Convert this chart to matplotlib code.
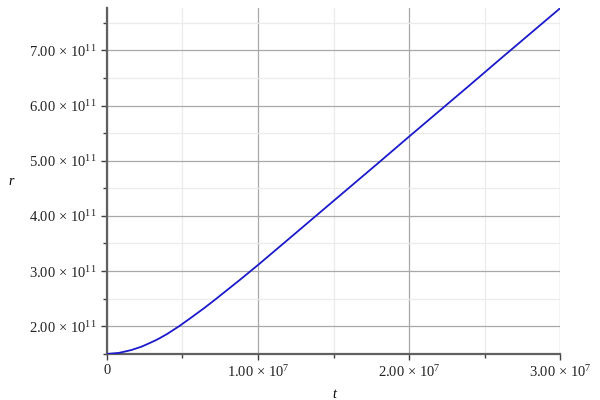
import matplotlib
matplotlib.use("Agg")
import matplotlib.pyplot as plt
from matplotlib.ticker import FuncFormatter, MultipleLocator

# values
t = [0, 0.8e6, 1.6e6, 2.2e6, 2.4e6, 3.2e6, 3.52e6, 4.0e6, 4.8e6, 5.6e6,
     6.4e6, 7.2e6, 8.0e6, 8.8e6, 9.6e6, 1.0e7, 1.2e7, 1.4e7, 1.6e7, 1.8e7,
     2.0e7, 2.2e7, 2.4e7, 2.6e7, 2.8e7, 3.0e7]
r = [1.496e11, 1.516e11, 1.566e11, 1.62e11, 1.641e11, 1.74e11, 1.786e11,
     1.861e11, 2.003e11, 2.16e11, 2.32e11, 2.49e11, 2.665e11, 2.84e11,
     3.02e11, 3.11e11, 3.574e11, 4.04e11, 4.505e11, 4.97e11, 5.44e11,
     5.905e11, 6.37e11, 6.84e11, 7.305e11, 7.77e11]

plt.rcParams["font.family"] = ["Liberation Serif", "DejaVu Serif"]
plt.rcParams["mathtext.fontset"] = "custom"
plt.rcParams["mathtext.rm"] = "Liberation Serif"
plt.rcParams["mathtext.it"] = "Liberation Serif:italic"

fig = plt.figure(figsize=(6, 4), dpi=100)
ax = fig.add_axes([0.178, 0.115, 0.756, 0.865])

ax.plot(t, r, color="#1a1acc", lw=1.3, zorder=3)

ax.set_xlim(0, 3.0e7)
ax.set_ylim(1.496e11, 7.77e11)

ax.xaxis.set_major_locator(MultipleLocator(1e7))
ax.xaxis.set_minor_locator(MultipleLocator(5e6))
ax.yaxis.set_major_locator(MultipleLocator(1e11))
ax.yaxis.set_minor_locator(MultipleLocator(5e10))


def sci(v, pos):
    if v == 0:
        return "0"
    e = 0
    m = v
    while abs(m) >= 10:
        m /= 10
        e += 1
    return "%.2f \u00d7 10$^{%d}$" % (m, e)


ax.xaxis.set_major_formatter(FuncFormatter(sci))
ax.yaxis.set_major_formatter(FuncFormatter(sci))

ax.grid(True, which="major", color="#a8a8a8", lw=0.9)
ax.grid(True, which="minor", color="#ebebeb", lw=0.9)
ax.set_axisbelow(True)

for s in ["top", "right"]:
    ax.spines[s].set_visible(False)
for s in ["left", "bottom"]:
    ax.spines[s].set_color("#606060")
    ax.spines[s].set_linewidth(1.6)

ax.tick_params(which="both", direction="out", color="#404040", labelsize=10.5,
               labelcolor="#222222")
ax.tick_params(which="major", length=4, width=1)
ax.tick_params(which="minor", length=3, width=1)

ax.set_xlabel("t", fontstyle="italic", fontsize=10)
ax.set_ylabel("r", fontstyle="italic", fontsize=10, rotation=0)
ax.xaxis.set_label_coords(0.501, -0.098)
ax.yaxis.set_label_coords(-0.21, 0.48)

fig.savefig("out.png", dpi=100)
